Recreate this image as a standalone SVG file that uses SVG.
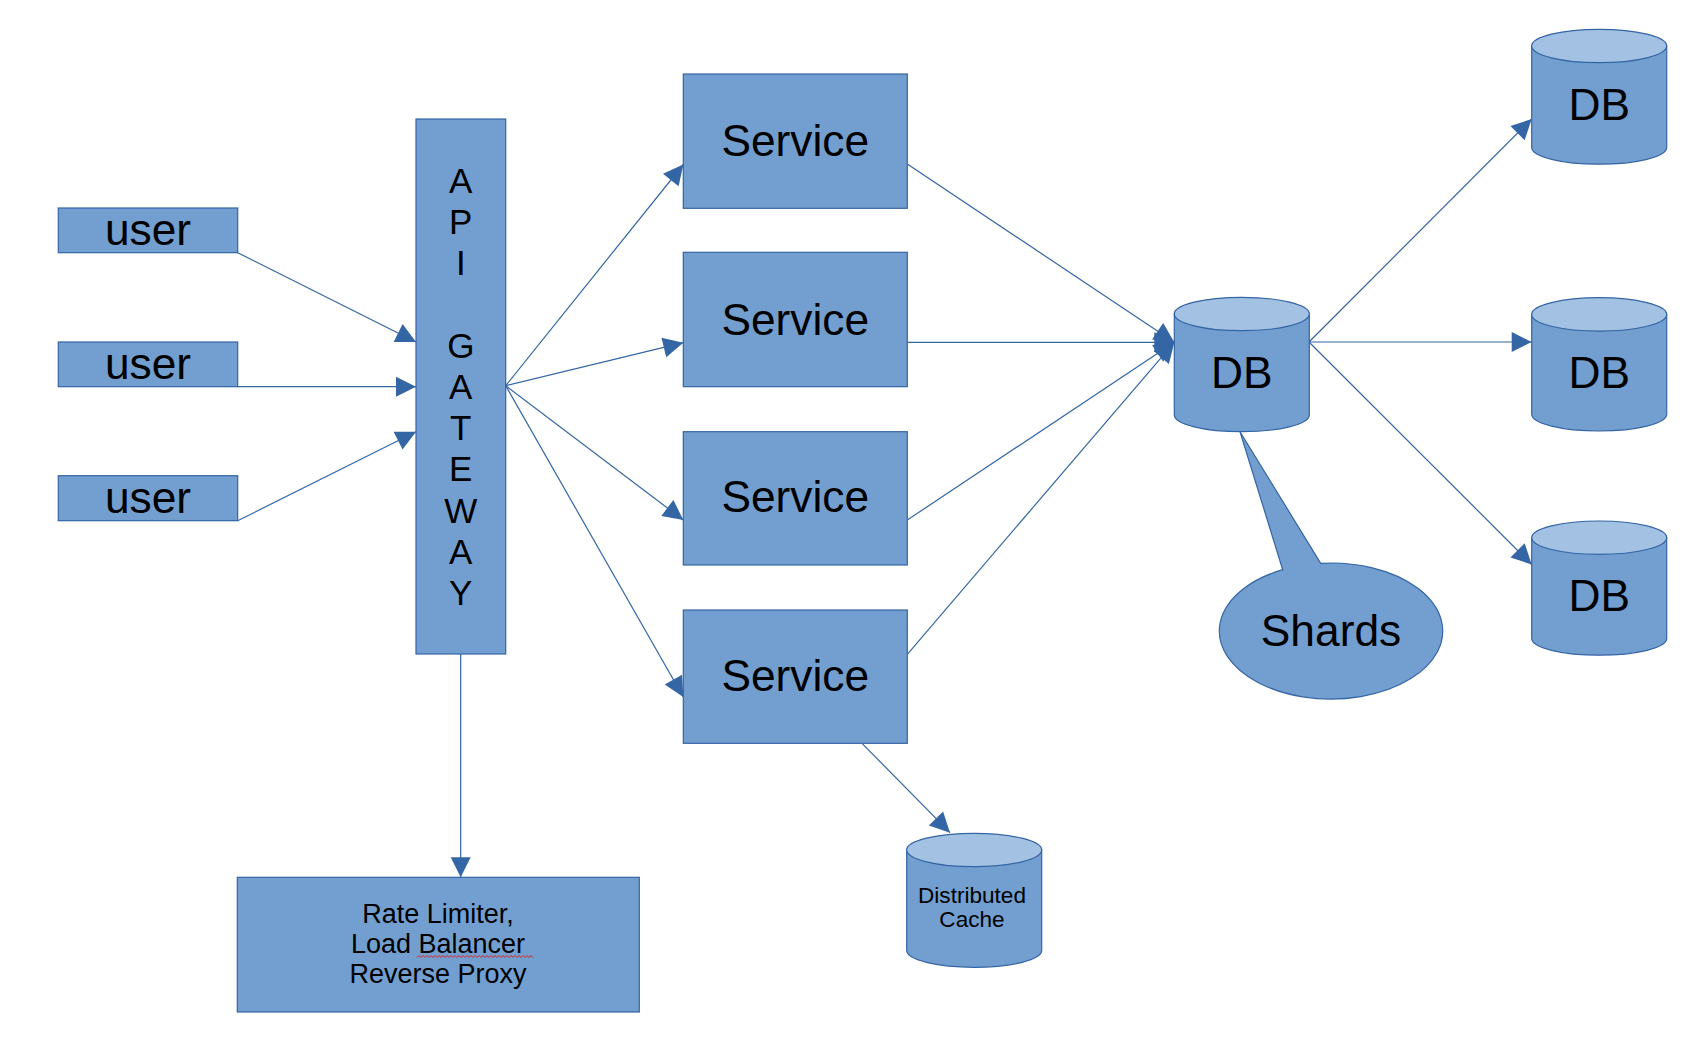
<svg xmlns="http://www.w3.org/2000/svg" width="1699" height="1040" viewBox="0 0 1699 1040">
<style>
.box{fill:#729fcf;stroke:#3465a4;stroke-width:1.2}
.top{fill:#a3c1e3;stroke:#3465a4;stroke-width:1.2}
.t{font-family:"Liberation Sans",Arial,sans-serif;fill:#000;text-anchor:middle}
.big{font-size:44.3px}
.gw{font-size:35px}
.sm{font-size:27px}
.xs{font-size:22.6px}
.c{fill:none;stroke:#3465a4;stroke-width:1.2}
</style>
<defs>
<marker id="ah" markerUnits="userSpaceOnUse" markerWidth="20" markerHeight="20" refX="20" refY="10" orient="auto" viewBox="0 0 20 20" overflow="visible">
<path d="M0,0 L20,10 L0,20 Z" fill="#3465a4"/>
</marker>
</defs>
<rect width="1699" height="1040" fill="#fff"/>
<g id="connectors">
<path class="c" marker-end="url(#ah)" d="M237.7,252.7 L416,342"/>
<path class="c" marker-end="url(#ah)" d="M237.7,386.7 L416,386.7"/>
<path class="c" marker-end="url(#ah)" d="M237.7,520.7 L416,431.7"/>
<path class="c" marker-end="url(#ah)" d="M505.7,385.7 L683.3,164.5"/>
<path class="c" marker-end="url(#ah)" d="M505.7,385.7 L683.3,342.7"/>
<path class="c" marker-end="url(#ah)" d="M505.7,385.7 L683.3,520"/>
<path class="c" marker-end="url(#ah)" d="M505.7,385.7 L683.3,697"/>
<path class="c" marker-end="url(#ah)" d="M460.7,654 L460.7,877.3"/>
<path class="c" marker-end="url(#ah)" d="M907.3,164 L1174.3,342.3"/>
<path class="c" marker-end="url(#ah)" d="M907.3,342.3 L1174.3,342.3"/>
<path class="c" marker-end="url(#ah)" d="M907.3,520 L1174.3,342.3"/>
<path class="c" marker-end="url(#ah)" d="M907.3,654.3 L1174.3,342.3"/>
<path class="c" marker-end="url(#ah)" d="M1309,342 L1531.7,119"/>
<path class="c" marker-end="url(#ah)" d="M1309,342 L1531.7,342"/>
<path class="c" marker-end="url(#ah)" d="M1309,342 L1531.7,564.5"/>
<path class="c" marker-end="url(#ah)" d="M862,743.3 L950,832.7"/>
</g>
<g id="user1"><rect class="box" x="58.3" y="208" width="179.4" height="44.7"/><text class="t big" x="148" y="245">user</text></g>
<g id="user2"><rect class="box" x="58.3" y="342" width="179.4" height="44.7"/><text class="t big" x="148" y="379.3">user</text></g>
<g id="user3"><rect class="box" x="58.3" y="475.7" width="179.4" height="45"/><text class="t big" x="148" y="512.7">user</text></g>
<g id="gateway"><rect class="box" x="416" y="119" width="89.7" height="535"/>
<text class="t gw" x="460.8" y="192.7"><tspan x="460.8">A</tspan><tspan x="460.8" dy="41.23">P</tspan><tspan x="460.8" dy="41.23">I</tspan><tspan x="460.8" dy="82.46">G</tspan><tspan x="460.8" dy="41.23">A</tspan><tspan x="460.8" dy="41.23">T</tspan><tspan x="460.8" dy="41.23">E</tspan><tspan x="460.8" dy="41.23">W</tspan><tspan x="460.8" dy="41.23">A</tspan><tspan x="460.8" dy="41.23">Y</tspan></text></g>
<g id="service1"><rect class="box" x="683.3" y="74" width="224" height="134.3"/><text class="t big" x="795.3" y="156">Service</text></g>
<g id="service2"><rect class="box" x="683.3" y="252.3" width="224" height="134.4"/><text class="t big" x="795.3" y="335">Service</text></g>
<g id="service3"><rect class="box" x="683.3" y="431.7" width="224" height="133.3"/><text class="t big" x="795.3" y="511.7">Service</text></g>
<g id="service4"><rect class="box" x="683.3" y="610" width="224" height="133.3"/><text class="t big" x="795.3" y="691">Service</text></g>
<g id="ratelimiter"><rect class="box" x="237.3" y="877.3" width="402" height="134.7"/>
<text class="t sm" x="438" y="922.7">Rate Limiter,</text><text class="t sm" x="438" y="953.3">Load Balancer</text><text class="t sm" x="438" y="983.3">Reverse Proxy</text>
<path d="M417,957.5 l2,-2 l2,2 l2,-2 l2,2 l2,-2 l2,2 l2,-2 l2,2 l2,-2 l2,2 l2,-2 l2,2 l2,-2 l2,2 l2,-2 l2,2 l2,-2 l2,2 l2,-2 l2,2 l2,-2 l2,2 l2,-2 l2,2 l2,-2 l2,2 l2,-2 l2,2 l2,-2 l2,2 l2,-2 l2,2 l2,-2 l2,2 l2,-2 l2,2 l2,-2 l2,2 l2,-2 l2,2 l2,-2 l2,2 l2,-2 l2,2 l2,-2 l2,2 l2,-2 l2,2 l2,-2 l2,2 l2,-2 l2,2 l2,-2 l2,2 l2,-2 l2,2 l2,-2 l2,2" fill="none" stroke="#e02020" stroke-width="1"/></g>
<g id="cache"><path class="box" d="M906.7,850 L906.7,950.6 A67.5,16.7 0 0 0 1041.7,950.6 L1041.7,850 Z"/><ellipse class="top" cx="974.2" cy="850" rx="67.5" ry="16.7"/>
<text class="t xs" x="972" y="902.5">Distributed</text><text class="t xs" x="972" y="926.5">Cache</text></g>
<g id="db-main"><path class="box" d="M1174.3,314 L1174.3,415 A67.5,16.7 0 0 0 1309.3,415 L1309.3,314 Z"/><ellipse class="top" cx="1241.8" cy="314" rx="67.5" ry="16.7"/><text class="t big" x="1241.8" y="387.5">DB</text></g>
<g id="shards"><path class="box" d="M1282.7,569.7 L1240,431.7 L1320.7,563.3 A111.7,68 0 1 1 1282.7,569.7 Z"/><text class="t big" x="1331" y="646">Shards</text></g>
<g id="db1"><path class="box" d="M1531.7,46 L1531.7,147.5 A67.5,16.7 0 0 0 1666.7,147.5 L1666.7,46 Z"/><ellipse class="top" cx="1599.2" cy="46" rx="67.5" ry="16.7"/><text class="t big" x="1599.2" y="120">DB</text></g>
<g id="db2"><path class="box" d="M1531.7,314.4 L1531.7,414.3 A67.5,16.7 0 0 0 1666.7,414.3 L1666.7,314.4 Z"/><ellipse class="top" cx="1599.2" cy="314.4" rx="67.5" ry="16.7"/><text class="t big" x="1599.2" y="387.7">DB</text></g>
<g id="db3"><path class="box" d="M1531.7,537.7 L1531.7,638.5 A67.5,16.7 0 0 0 1666.7,638.5 L1666.7,537.7 Z"/><ellipse class="top" cx="1599.2" cy="537.7" rx="67.5" ry="16.7"/><text class="t big" x="1599.2" y="611.3">DB</text></g>
</svg>
